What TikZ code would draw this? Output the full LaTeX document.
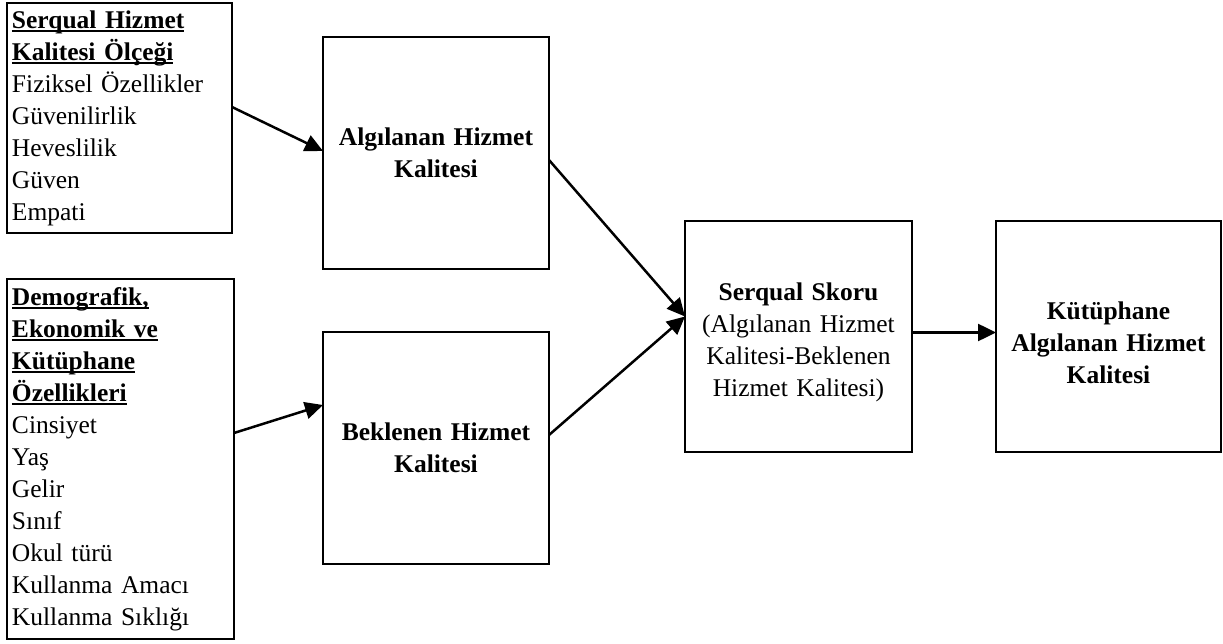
\documentclass[tikz,border=0pt]{standalone}
\usepackage{fontspec}
\setmainfont{Liberation Serif}
\usetikzlibrary{arrows.meta}
\newsavebox\ulbox
\newcommand\myul[1]{\sbox\ulbox{#1}\rlap{\rule[-4pt]{\wd\ulbox}{1.8pt}}\usebox\ulbox}
\newcommand\topstrut{\rule{0pt}{30pt}}
\tikzset{
  box/.style={draw, line width=2pt, rectangle, outer sep=0pt, inner xsep=5pt, inner ysep=0pt,
    anchor=north west, font=\fontsize{25.5}{32}\selectfont},
  listbox/.style={box, align=left},
  midbox/.style={box, align=center},
  conn/.style={line width=2.5pt, -{Triangle[length=18pt,width=17pt]}},
}
\begin{document}
\begin{tikzpicture}[x=1pt,y=-1pt]
\useasboundingbox (0,0) rectangle (1223,644);
\node[listbox, text width=215pt, minimum height=230pt] (A) at (7,3)
  {\textbf{\myul{Serqual Hizmet}}\\ \textbf{\myul{Kalitesi Ölçeği}}\\ Fiziksel Özellikler\\ Güvenilirlik\\ Heveslilik\\ Güven\\ Empati};
\node[listbox, text width=217pt, minimum height=360pt] (B) at (7,279)
  {\textbf{\myul{Demografik,}}\\ \textbf{\myul{Ekonomik ve}}\\ \textbf{\myul{Kütüphane}}\\ \textbf{\myul{Özellikleri}}\\ Cinsiyet\\ Yaş\\ Gelir\\ Sınıf\\ Okul türü\\ Kullanma Amacı\\ Kullanma Sıklığı};
\node[midbox, text width=216pt, minimum height=232pt] (C) at (323,37)
  {\textbf{Algılanan Hizmet}\\ \textbf{Kalitesi}};
\node[midbox, text width=216pt, minimum height=232pt] (D) at (323,332)
  {\textbf{Beklenen Hizmet}\\ \textbf{Kalitesi}};
\node[midbox, text width=217pt, minimum height=231pt] (E) at (685,221)
  {\topstrut\textbf{Serqual Skoru}\\ (Algılanan Hizmet\\ Kalitesi-Beklenen\\ Hizmet Kalitesi)};
\node[midbox, text width=215pt, minimum height=231pt] (F) at (996,221)
  {\topstrut\textbf{Kütüphane}\\ \textbf{Algılanan Hizmet}\\ \textbf{Kalitesi}};
\draw[conn] ([yshift=11pt]A.east) -- ([yshift=2pt]C.west);
\draw[conn] ([yshift=26pt]B.east) -- ([yshift=43pt]D.west);
\draw[conn] ([yshift=-7pt]C.east) -- ([yshift=20pt]E.west);
\draw[conn] ([yshift=13pt]D.east) -- ([yshift=20pt]E.west);
\draw[conn] ([yshift=4pt]E.east) -- ([yshift=4pt]F.west);
\end{tikzpicture}
\end{document}
